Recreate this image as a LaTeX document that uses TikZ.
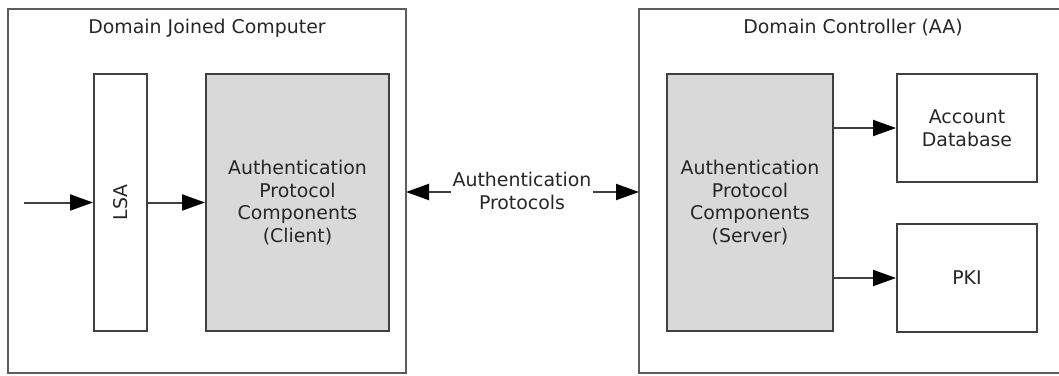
\documentclass[tikz,border=0pt]{standalone}
\usepackage{fontspec}
\setmainfont{DejaVu Sans}
\usetikzlibrary{arrows.meta}
\definecolor{edge}{HTML}{404040}
\definecolor{boxfill}{HTML}{D9D9D9}
\definecolor{txt}{HTML}{262626}
\tikzset{
  outerbox/.style={draw=edge!85, line width=1.5pt},
  innerbox/.style={draw=edge, line width=2pt, inner sep=0pt, align=center, text=txt},
  graybox/.style={innerbox, fill=boxfill},
  conn/.style={draw=edge, line width=2pt, -{Triangle[length=23pt,width=16pt,fill=black,color=black]}},
  lbl/.style={text=txt, align=center, inner sep=0pt}
}
\begin{document}
\begin{tikzpicture}[x=1pt,y=-1pt, every node/.style={font=\fontsize{18.9}{22.7}\selectfont}]
\clip (0,0) rectangle (1059,375);
\useasboundingbox (0,0) rectangle (1059,375);
% outer boxes
\draw[outerbox] (8,9) rectangle (406,373);
\draw[outerbox] (639,9) rectangle (1070,373);
\node[lbl] (t1) at (207,28) {Domain Joined Computer};
\node[lbl] (t2) at (853,28) {Domain Controller (AA)};
\coordinate (lbox) at (406,192);
\coordinate (rbox) at (639,192);
% left side
\node[innerbox, minimum width=53pt, minimum height=257pt] (lsa) at (120.5,202.5) {};
\node[lbl, rotate=90] at (lsa.center) {LSA};
\node[graybox, minimum width=183pt, minimum height=257pt] (client) at (297.5,202.5) {Authentication\\Protocol\\Components\\(Client)};
\coordinate (in) at (24,202.5);
\draw[conn] (in) -- (lsa.west);
\draw[conn] (lsa.east) -- (client.west);
% middle
\node[lbl] (proto) at (522,191) {Authentication\\Protocols};
\draw[conn] (proto.west |- lbox) ++(-1,0) -- (lbox);
\draw[conn] (proto.east |- rbox) ++(1,0) -- (rbox);
% right side
\node[graybox, minimum width=166pt, minimum height=257pt] (server) at (750,202.5) {Authentication\\Protocol\\Components\\(Server)};
\node[innerbox, minimum width=140pt, minimum height=108pt] (acct) at (967,128) {Account\\Database};
\node[innerbox, minimum width=140pt, minimum height=108pt] (pki) at (967,278) {PKI};
\draw[conn] (server.east |- acct) -- (acct.west);
\draw[conn] (server.east |- pki) -- (pki.west);
\end{tikzpicture}
\end{document}
